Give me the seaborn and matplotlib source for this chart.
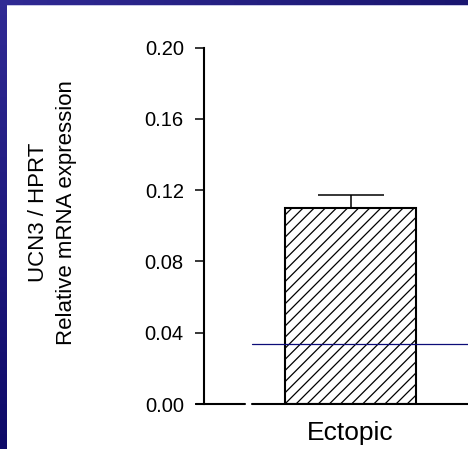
import numpy as np
import matplotlib
matplotlib.use('Agg')
import matplotlib.pyplot as plt
from matplotlib.patches import Rectangle
import seaborn as sns

# data
categories = ["Ectopic"]
values = [0.110]
sem = [0.0073]
reference_level = 0.0337   # thin blue line across the plot
yticks = [0.00, 0.04, 0.08, 0.12, 0.16, 0.20]
ytick_labels = ["0.00", "0.04", "0.08", "0.12", "0.16", "0.20"]

sns.set_style("white")
plt.rcParams['font.family'] = ['Liberation Sans', 'DejaVu Sans']
plt.rcParams['hatch.linewidth'] = 0.9

W, H = 468, 449
fig = plt.figure(figsize=(W / 100, H / 100), dpi=100)

# dark blue slide background with gradient
bg = fig.add_axes([0, 0, 1, 1], zorder=-2)
tl = np.array([48, 42, 148]) / 255
tr = np.array([26, 22, 112]) / 255
bl = np.array([14, 10, 104]) / 255
br = np.array([10, 8, 90]) / 255
u = np.linspace(0, 1, 60)[None, :, None]
v = np.linspace(0, 1, 60)[:, None, None]
grad = (1 - u) * (1 - v) * tl + u * (1 - v) * tr + (1 - u) * v * bl + u * v * br
bg.imshow(grad, aspect='auto', extent=[0, 1, 0, 1], origin='upper')
bg.axis('off')

# white panel
panel = Rectangle((7 / W, 0), 1, 1 - 5 / H, transform=fig.transFigure,
                  facecolor='white', edgecolor='none', zorder=-1)
fig.patches.append(panel)
edge = Rectangle((7 / W, 1 - 6 / H), 1, 1 / H, transform=fig.transFigure,
                 facecolor=(0.78, 0.78, 0.9), edgecolor='none', zorder=-1)
fig.patches.append(edge)

ax = fig.add_axes([204 / W, 1 - 404 / H, 1 - 204 / W, (404 - 47.5) / H])
ax.set_facecolor('none')

sns.barplot(x=categories, y=values, ax=ax, color='white', edgecolor='black',
            linewidth=1.5, hatch='///', width=0.8, errorbar=None, zorder=2)
ax.errorbar(x=np.arange(len(categories)), y=values,
            yerr=[np.zeros(len(sem)), sem], fmt='none', ecolor='black',
            elinewidth=1.1, capsize=23.5, capthick=1.1, zorder=1)

ax.set_xlim(-0.895, 0.717)
ax.set_ylim(0, 0.20)
ax.set_yticks(yticks)
ax.set_yticklabels(ytick_labels)

# axis styling: only a left spine, broken baseline
for side in ['top', 'right', 'bottom']:
    ax.spines[side].set_visible(False)
ax.spines['left'].set_linewidth(1.5)
ax.spines['left'].set_color('black')
ax.axhline(0, xmin=-0.03, xmax=0.155, color='black', lw=1.5, clip_on=False)
ax.axhline(0, xmin=0.182, xmax=1.0, color='black', lw=1.5, clip_on=False)
ax.axhline(reference_level, xmin=0.182, xmax=1.0, color='#0c0c78', lw=0.9, zorder=3)

ax.tick_params(axis='y', direction='out', length=6.5, width=1.1, pad=8,
               labelsize=14.5, colors='black', left=True)
ax.tick_params(axis='x', length=0, pad=12, labelsize=19, colors='black')

ax.set_xlabel('')
ax.set_ylabel("UCN3 / HPRT\nRelative mRNA expression", fontsize=16,
              linespacing=1.45, color='black')
ax.yaxis.set_label_coords(-0.481, 0.538)

fig.savefig('out.png', dpi=100)
